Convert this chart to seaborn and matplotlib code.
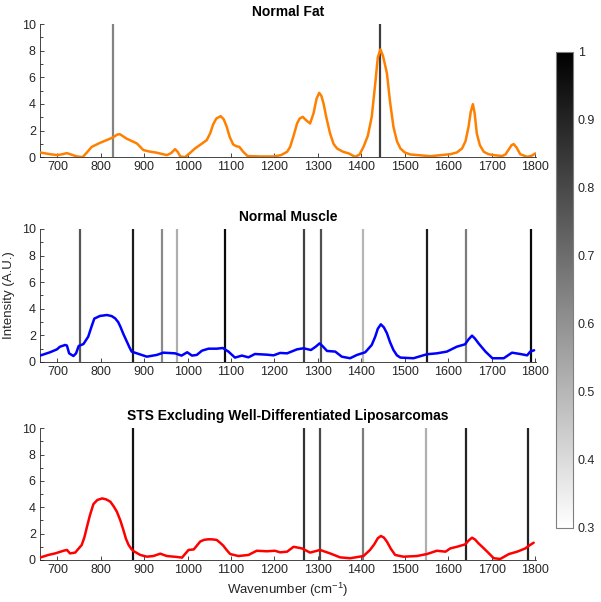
import numpy as np
import pandas as pd
import matplotlib
matplotlib.use("Agg")
import matplotlib.pyplot as plt
import seaborn as sns

# ---------------- data ----------------
fat_wn = [660, 683, 700, 712, 722, 733, 745, 758, 768, 779, 798, 815, 828, 838, 844, 852, 860, 872, 883, 890, 898,
          912, 929, 952, 962, 971, 977, 983, 994, 1005,
          1017, 1030, 1044, 1052, 1059, 1066, 1076, 1083, 1090, 1097, 1105, 1112, 1119, 1128, 1138, 1167, 1198,
          1215, 1229, 1236, 1244, 1252, 1258, 1265, 1272, 1282, 1290, 1297, 1303, 1308, 1313, 1320, 1328, 1336,
          1344, 1358, 1371, 1386, 1396, 1405, 1415, 1424, 1432, 1438, 1444, 1450, 1459, 1466, 1474, 1482, 1490,
          1500, 1513, 1559, 1605, 1620, 1632, 1640, 1647, 1652, 1657, 1661, 1666, 1673, 1682, 1693, 1705, 1724,
          1732, 1740, 1746, 1751, 1758, 1766, 1782, 1792, 1801]
fat_int = [0.35, 0.22, 0.15, 0.22, 0.30, 0.18, 0.05, 0.0, 0.35, 0.77, 1.07, 1.30, 1.48, 1.70, 1.72, 1.55, 1.38, 1.20, 1.03, 0.80, 0.53,
           0.42, 0.33, 0.15, 0.30, 0.60, 0.40, 0.05, 0.0, 0.30,
           0.65, 0.95, 1.28, 1.80, 2.48, 2.90, 3.08, 2.85, 2.28, 1.50, 0.95, 0.82, 0.77, 0.40, 0.08, 0.05, 0.05,
           0.15, 0.40, 0.77, 1.60, 2.53, 2.90, 3.03, 2.80, 2.53, 3.30, 4.40, 4.83, 4.60, 4.03, 2.90, 1.78, 1.00,
           0.65, 0.40, 0.28, 0.02, 0.20, 0.77, 1.60, 3.03, 5.50, 7.50, 8.10, 7.60, 6.30, 4.20, 2.28, 1.20, 0.65,
           0.35, 0.20, 0.07, 0.22, 0.35, 0.65, 1.20, 2.28, 3.40, 3.98, 3.30, 1.78, 0.90, 0.40, 0.22, 0.15, 0.08,
           0.20, 0.60, 0.90, 0.98, 0.70, 0.22, 0.02, 0.10, 0.28]

mus_wn = [660, 683, 699, 706, 718, 722, 727, 737, 743, 749, 760, 771, 778, 785, 798, 814, 825, 833, 840, 845, 852,
          860, 866, 871, 883, 906, 929, 944, 971, 986, 999, 1010, 1021, 1033, 1048, 1067, 1081, 1094, 1109, 1125,
          1140, 1155, 1182, 1198, 1213, 1229, 1252, 1267, 1284, 1295, 1304, 1312, 1321, 1340, 1355, 1374, 1390,
          1409, 1424, 1432, 1438, 1445, 1452, 1459, 1466, 1474, 1482, 1490, 1520, 1551, 1574, 1597, 1620, 1639,
          1647, 1655, 1662, 1670, 1686, 1702, 1728, 1747, 1766, 1782, 1789, 1798]
mus_int = [0.48, 0.73, 0.95, 1.15, 1.28, 1.23, 0.65, 0.45, 0.65, 1.20, 1.35, 1.90, 2.60, 3.26, 3.46, 3.53, 3.45, 3.28, 3.00, 2.66, 2.10,
           1.53, 1.10, 0.78, 0.65, 0.40, 0.53, 0.70, 0.65, 0.48, 0.73, 0.48, 0.53, 0.85, 1.00, 1.00, 1.05, 0.78, 0.33, 0.48,
           0.35, 0.60, 0.55, 0.50, 0.68, 0.65, 0.95, 1.03, 0.90, 1.15, 1.40, 1.15, 0.83, 0.78, 0.40, 0.28, 0.53,
           0.73, 1.28, 1.90, 2.50, 2.83, 2.60, 2.16, 1.50, 0.90, 0.50, 0.33, 0.28, 0.58, 0.65, 0.78, 1.15, 1.33,
           1.70, 1.98, 1.75, 1.40, 0.78, 0.28, 0.28, 0.70, 0.60, 0.50, 0.78, 0.88]

sts_wn = [660, 679, 695, 714, 722, 729, 741, 756, 762, 768, 775, 783, 792, 803, 812, 822, 830, 837, 845, 852, 858,
          864, 870, 875, 891, 906, 921, 937, 952, 975, 987, 1002, 1014, 1029, 1038, 1048, 1058, 1067, 1075, 1082,
          1090, 1098, 1117, 1140, 1159, 1182, 1201, 1213, 1229, 1244, 1263, 1282, 1305, 1328, 1351, 1374, 1405,
          1420, 1430, 1438, 1445, 1452, 1459, 1468, 1478, 1497, 1528, 1551, 1574, 1594, 1605, 1620, 1639, 1648,
          1655, 1662, 1670, 1680, 1690, 1705, 1720, 1740, 1759, 1778, 1785, 1797]
sts_int = [0.18, 0.38, 0.50, 0.70, 0.76, 0.50, 0.56, 1.14, 1.70, 2.50, 3.40, 4.24, 4.55, 4.67, 4.60, 4.42, 4.05, 3.66, 3.00, 2.27, 1.60,
           1.14, 0.85, 0.68, 0.38, 0.25, 0.30, 0.48, 0.30, 0.23, 0.18, 0.76, 0.80, 1.40, 1.53, 1.57, 1.56, 1.52, 1.30, 1.09,
           0.75, 0.45, 0.30, 0.38, 0.70, 0.66, 0.70, 0.58, 0.63, 1.00, 0.88, 0.56, 0.76, 0.50, 0.20, 0.13, 0.30,
           0.76, 1.20, 1.65, 1.82, 1.70, 1.39, 0.85, 0.38, 0.25, 0.30, 0.45, 0.70, 0.63, 0.88, 1.00, 1.18, 1.50,
           1.69, 1.55, 1.26, 0.95, 0.63, 0.13, 0.08, 0.45, 0.63, 0.88, 1.06, 1.31]

# vertical marker lines: wavenumber and weight (0.3 .. 1 colour scale)
fat_lines_wn = [828, 1442]
fat_lines_w = [0.64, 0.83]
mus_lines_wn = [752, 874, 941, 976, 1085, 1268, 1306, 1404, 1551, 1642, 1791]
mus_lines_w = [0.76, 0.92, 0.62, 0.52, 0.97, 0.82, 0.78, 0.50, 0.92, 0.66, 0.97]
sts_lines_wn = [874, 1267, 1305, 1404, 1550, 1642, 1785]
sts_lines_w = [0.95, 0.86, 0.80, 0.66, 0.52, 0.90, 0.90]

titles = ["Normal Fat", "Normal Muscle", "STS Excluding Well-Differentiated Liposarcomas"]
line_colors = ["#FF8000", "#0000FF", "#FF0000"]
x_ticks = [700, 800, 900, 1000, 1100, 1200, 1300, 1400, 1500, 1600, 1700, 1800]
y_ticks = [0, 2, 4, 6, 8, 10]
cbar_ticks = [0.3, 0.4, 0.5, 0.6, 0.7, 0.8, 0.9, 1.0]
cbar_labels = ["0.3", "0.4", "0.5", "0.6", "0.7", "0.8", "0.9", "1"]

# ---------------- style ----------------
sns.set_style("ticks")
plt.rcParams["font.family"] = ["Liberation Sans", "DejaVu Sans"]
plt.rcParams["mathtext.fontset"] = "custom"
plt.rcParams["mathtext.rm"] = "Liberation Sans"
plt.rcParams["xtick.direction"] = "in"
plt.rcParams["ytick.direction"] = "in"

axis_col = "#262626"
cmap = plt.cm.gray_r
norm = matplotlib.colors.Normalize(vmin=0.3, vmax=1.0)

fig = plt.figure(figsize=(6.01, 6.02), dpi=100)
ax_pos = [[0.0666, 0.739, 0.825, 0.221],
          [0.0666, 0.3987, 0.825, 0.221],
          [0.0666, 0.0698, 0.825, 0.219]]

spectra = [(fat_wn, fat_int, fat_lines_wn, fat_lines_w),
           (mus_wn, mus_int, mus_lines_wn, mus_lines_w),
           (sts_wn, sts_int, sts_lines_wn, sts_lines_w)]

axes = []
for i, (wn, inten, lwn, lw_) in enumerate(spectra):
    ax = fig.add_axes(ax_pos[i])
    axes.append(ax)
    for xv, wv in zip(lwn, lw_):
        ax.axvline(xv, color=cmap(norm(wv)), lw=1.6, zorder=1)
    df = pd.DataFrame({"Wavenumber": wn, "Intensity": inten})
    sns.lineplot(data=df, x="Wavenumber", y="Intensity", ax=ax, color=line_colors[i],
                 lw=1.8, sort=False, zorder=3, solid_joinstyle="round", solid_capstyle="round")
    ax.set_xlim(660, 1802)
    ax.set_ylim(0, 10)
    ax.set_xticks(x_ticks)
    ax.set_yticks(y_ticks)
    ax.set_yticks(np.arange(1, 10, 2), minor=True)
    ax.tick_params(axis="both", which="major", labelsize=9, length=3, width=0.6,
                   colors=axis_col, pad=3)
    ax.tick_params(axis="y", which="minor", length=2, width=0.6, colors=axis_col)
    for s in ["top", "right"]:
        ax.spines[s].set_visible(False)
    for s in ["left", "bottom"]:
        ax.spines[s].set_color(axis_col)
        ax.spines[s].set_linewidth(0.6)
    ax.set_xlabel("")
    ax.set_ylabel("")
    ax.set_title(titles[i], fontsize=10, fontweight="bold", pad=6, color="black")

axes[1].set_ylabel("Intensity (A.U.)", fontsize=9.5, labelpad=5)
axes[2].set_xlabel("Wavenumber (cm$^{-1}$)", fontsize=9.5, labelpad=3)

cax = fig.add_axes([0.925, 0.123, 0.0283, 0.791])
cb = matplotlib.colorbar.ColorbarBase(cax, cmap=cmap, norm=norm)
cb.set_ticks(cbar_ticks)
cb.set_ticklabels(cbar_labels)
cb.outline.set_edgecolor("#7f7f7f")
cb.outline.set_linewidth(0.8)
cax.tick_params(labelsize=9, direction="in", length=3, width=0.6, colors=axis_col)

fig.savefig("out.png", dpi=100)
